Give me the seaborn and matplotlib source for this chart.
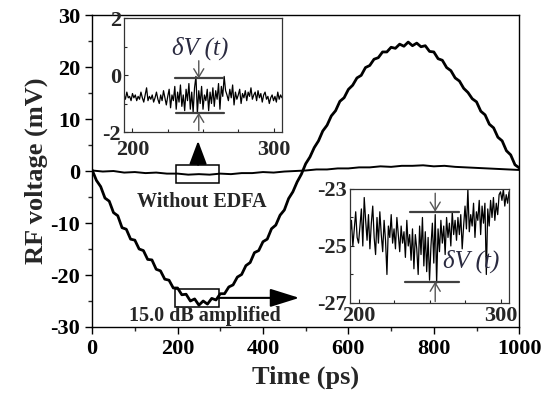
import numpy as np
import pandas as pd
import matplotlib
matplotlib.use("Agg")
import matplotlib.pyplot as plt
import seaborn as sns
from matplotlib.patches import Rectangle
from matplotlib.ticker import MultipleLocator

sns.set_theme(style="ticks")
plt.rcParams['font.family'] = ['Liberation Serif', 'DejaVu Serif']
plt.rcParams['font.weight'] = 'bold'
plt.rcParams['axes.unicode_minus'] = False

# ---- data ----
# main trace, 15.0 dB amplified (every 10 ps)
t_amp = list(range(0, 1001, 10))
v_amp = [0.2, -1.8, -3.0, -5.2, -5.8, -8.0, -8.6, -10.9, -11.2, -13.1,
         -13.3, -15.0, -15.3, -17.0, -17.1, -18.9, -19.2, -20.8, -21.0, -22.5,
         -22.5, -23.8, -23.7, -25.0, -24.6, -25.8, -25.0, -25.6, -24.5, -24.8,
         -23.6, -23.6, -22.3, -21.9, -20.4, -19.9, -18.2, -17.6, -15.7, -15.3,
         -13.6, -13.1, -11.1, -10.4, -8.5, -7.5, -5.3, -4.0, -2.1, -0.6,
         1.4, 2.7, 4.5, 5.8, 7.7, 8.8, 10.6, 11.6, 13.4, 14.1,
         15.7, 16.5, 17.9, 18.4, 19.9, 20.3, 21.5, 21.8, 22.9, 22.9,
         23.8, 23.6, 24.4, 24.0, 24.8, 24.1, 24.6, 23.9, 24.1, 23.0,
         22.9, 21.6, 21.3, 19.9, 19.3, 17.9, 17.3, 15.9, 15.1, 13.9,
         13.3, 11.5, 10.8, 9.0, 8.3, 6.5, 5.8, 3.9, 3.1, 1.2, 0.6]

# trace without EDFA (every 25 ps)
t_raw = list(range(0, 1001, 25))
v_raw = [0.1, -0.1, 0.0, -0.3, -0.2, -0.4, -0.3, -0.5, -0.5, -0.7,
         -0.6, -0.7, -0.5, -0.6, -0.4, -0.4, -0.2, -0.3, -0.1, 0.0,
         0.1, 0.3, 0.3, 0.5, 0.5, 0.7, 0.7, 0.9, 0.8, 1.0,
         1.0, 1.1, 0.9, 1.0, 0.8, 0.7, 0.6, 0.5, 0.4, 0.3, 0.2]

# zoomed traces (every 1 ps, 194..306)
t_zoom = list(range(194, 307))
v_zoom_raw = [-0.7, -0.85, -0.6, -0.8, -0.75, -0.9,
              -0.65, -0.8, -0.7, -0.9, -0.75, -0.85, -0.6, -0.8, -0.95, -0.7,
              -0.45, -0.9, -0.75, -0.85, -0.7, -0.95, -0.8, -0.6, -0.85, -1.0,
              -0.7, -0.9, -0.55, -0.8, -1.05, -0.75, -0.5, -1.15, -0.7, -0.9,
              -0.4, -1.2, -0.6, -0.95, -0.35, -1.1, -0.7, -1.25, -0.5, -0.9,
              -0.3, -1.2, -0.6, -1.3, -0.45, -0.05, -1.35, -0.55, -1.0, -0.4,
              -1.2, -0.7, -0.9, -0.5, -1.25, -0.6, -1.0, -0.45, -1.1, -0.55,
              -0.85, -0.3, -1.2, -0.4, -0.75, -0.05, -0.55, -0.7, -0.9, -0.5,
              -0.8, -0.35, -1.05, -0.6, -0.85, -0.7, -0.5, -1.0, -0.65, -0.8,
              -0.55, -0.9, -0.6, -0.75, -0.45, -0.85, -0.7, -0.6, -0.9, -0.55,
              -0.8, -0.65, -0.95, -0.7, -0.6, -0.85, -0.75, -1.0, -0.8, -0.7, -0.9,
              -0.75, -0.95, -0.6, -0.85, -0.7, -0.8]
v_zoom_amp = [-24.6, -24.1, -25.0, -24.4, -23.8, -24.7,
              -24.9, -24.3, -23.7, -25.0, -23.3, -24.1, -24.8, -23.9, -25.1, -24.2,
              -23.6, -24.7, -25.3, -24.0, -24.9, -23.8, -24.6, -25.2, -24.1, -24.8,
              -26.0, -24.3, -24.7, -23.9, -24.9, -24.4, -25.1, -24.0, -24.6, -25.2,
              -24.3, -24.9, -24.5, -25.4, -24.1, -25.0, -24.6, -25.5, -24.4, -25.8,
              -24.6, -25.1, -26.0, -24.3, -25.3, -24.0, -25.7, -24.5, -25.9, -24.7,
              -26.2, -25.0, -24.2, -25.6, -23.9, -26.3, -24.4, -25.2, -24.1, -24.9,
              -24.3, -25.3, -24.0, -24.7, -24.2, -25.0, -23.8, -24.6, -24.1, -24.8,
              -24.0, -24.6, -23.9, -25.1, -24.3, -23.6, -24.4, -23.0, -24.5, -23.9,
              -24.3, -23.5, -24.7, -23.8, -24.1, -23.4, -24.6, -23.6, -24.2, -23.5,
              -26.0, -23.7, -24.3, -23.4, -24.0, -23.3, -24.1, -23.5, -23.9, -23.2, -23.1,
              -23.4, -23.0, -23.6, -23.2, -23.5, -23.1]

df_amp = pd.DataFrame({'t': t_amp, 'v': v_amp})
df_raw = pd.DataFrame({'t': t_raw, 'v': v_raw})

fig = plt.figure(figsize=(5.42, 4.11), dpi=100)
ax = fig.add_axes([0.170, 0.2044, 0.788, 0.759])

sns.lineplot(data=df_amp, x='t', y='v', ax=ax, color='black', lw=2.0,
             estimator=None, sort=False)
sns.lineplot(data=df_raw, x='t', y='v', ax=ax, color='black', lw=1.4,
             estimator=None, sort=False)

ax.set_xlim(0, 1000)
ax.set_ylim(-30, 30)
ax.xaxis.set_major_locator(MultipleLocator(200))
ax.xaxis.set_minor_locator(MultipleLocator(100))
ax.yaxis.set_major_locator(MultipleLocator(10))
ax.yaxis.set_minor_locator(MultipleLocator(5))
ax.tick_params(which='major', direction='out', length=5, width=1.0,
               labelsize=16, colors='black', top=False, right=False)
ax.tick_params(which='minor', direction='out', length=3, width=1.0,
               top=False, right=False)
for s in ax.spines.values():
    s.set_linewidth(1.0)
    s.set_color('black')
    s.set_visible(True)
ax.set_xlabel('Time (ps)', fontsize=19, fontweight='bold', labelpad=5)
ax.set_ylabel('RF voltage (mV)', fontsize=19, fontweight='bold', labelpad=2)

# boxes, arrows and labels on the main plot
ax.add_patch(Rectangle((197, -2.3), 100, 3.5, fill=False, ec='black', lw=1.1))
ax.add_patch(Rectangle((194, -26.2), 103, 3.5, fill=False, ec='black', lw=1.1))
ax.annotate('', xy=(248, 5.8), xytext=(248, 1.2),
            arrowprops=dict(arrowstyle='-|>,head_length=1.2,head_width=0.45',
                            color='black', lw=1.5, shrinkA=0, shrinkB=0))
ax.annotate('', xy=(485, -24.4), xytext=(297, -24.4),
            arrowprops=dict(arrowstyle='-|>,head_length=1.5,head_width=0.47',
                            color='black', lw=1.5, shrinkA=0, shrinkB=0))
ax.text(256, -5.9, 'Without EDFA', fontsize=14.5, fontweight='bold',
        ha='center', va='center')
ax.text(265, -27.8, '15.0 dB amplified', fontsize=14.5, fontweight='bold',
        ha='center', va='center')


def make_inset(rect, yvals, ylim, yticks, upper, lower, label_xy, xpad):
    ins = fig.add_axes(rect)
    d = pd.DataFrame({'t': t_zoom, 'v': yvals})
    sns.lineplot(data=d, x='t', y='v', ax=ins, color='black', lw=0.9,
                 estimator=None, sort=False)
    ins.set_xlim(194, 306)
    ins.set_ylim(*ylim)
    ins.set_xticks([200, 300])
    ins.set_yticks(yticks)
    ins.xaxis.set_minor_locator(MultipleLocator(25))
    ins.yaxis.set_minor_locator(MultipleLocator(1))
    ins.tick_params(which='both', direction='in', labelsize=16,
                    top=False, right=False)
    ins.tick_params(axis='x', pad=xpad)
    ins.tick_params(axis='y', pad=2)
    ins.tick_params(which='major', length=3, width=0.8)
    ins.tick_params(which='minor', length=2, width=0.8)
    ins.set_xlabel('')
    ins.set_ylabel('')
    for s in ins.spines.values():
        s.set_linewidth(0.9)
        s.set_color('#333333')
    # delta V markers
    (x0, x1, yu, yu_from), (x2, x3, yl, yl_from) = upper, lower
    ins.plot([x0, x1], [yu, yu], color='#404040', lw=1.6)
    ins.plot([x2, x3], [yl, yl], color='#404040', lw=1.6)
    xa = 254 if ylim[0] < -20 else 247
    ins.annotate('', xy=(xa, yu), xytext=(xa, yu_from),
                 arrowprops=dict(arrowstyle='->,head_length=0.5,head_width=0.3',
                                 color='#555555', lw=1.0, shrinkA=0, shrinkB=0))
    ins.annotate('', xy=(xa, yl), xytext=(xa, yl_from),
                 arrowprops=dict(arrowstyle='->,head_length=0.5,head_width=0.3',
                                 color='#555555', lw=1.0, shrinkA=0, shrinkB=0))
    ins.text(label_xy[0], label_xy[1], '\u03b4V (t)', fontsize=18,
             fontweight='normal', fontstyle='italic', color='#2a2a40',
             ha='center', va='center')
    return ins


make_inset([0.2288, 0.6788, 0.2915, 0.2774], v_zoom_raw, (-2, 2), [-2, 0, 2],
           (230, 264, -0.12, 0.5), (231, 265, -1.32, -1.95), (248, 0.95), 6)
make_inset([0.6458, 0.2628, 0.2934, 0.2774], v_zoom_amp, (-27, -23), [-27, -25, -23],
           (236, 271, -23.8, -23.15), (233, 271, -26.25, -26.95), (279, -25.55), 2.5)

fig.savefig('out.png', dpi=100)
